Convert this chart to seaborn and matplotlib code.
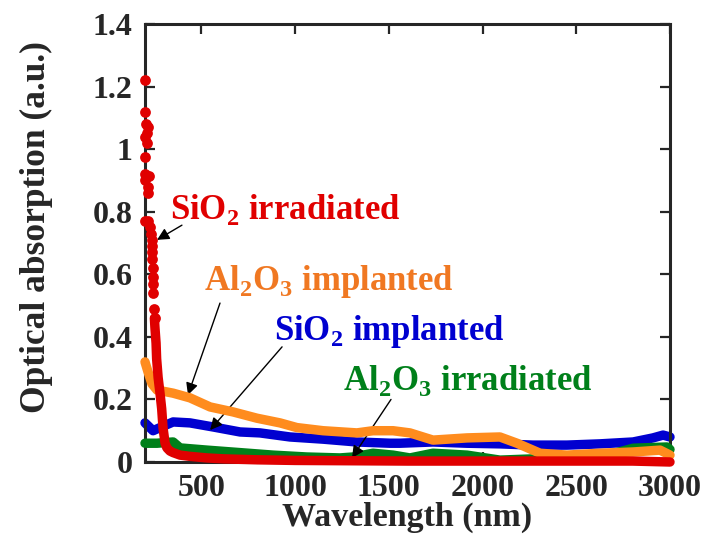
import matplotlib
matplotlib.use('Agg')
import matplotlib.pyplot as plt
import seaborn as sns

# SiO2 irradiated: sparse dots at short wavelength, then dense (drawn as a thick line)
red_dot_wl = [200, 200, 205, 216, 208, 202, 208, 200, 200, 222, 200, 216, 216, 200, 216,
              227, 230, 236, 236, 236, 236, 241, 241, 245, 245, 248, 253]
red_dot_abs = [1.22, 1.12, 1.08, 1.07, 1.05, 1.04, 1.02, 0.975, 0.92, 0.915, 0.90, 0.88, 0.86,
               0.77, 0.77, 0.75, 0.73, 0.71, 0.69, 0.67, 0.65, 0.62, 0.59, 0.57, 0.54, 0.49, 0.46]
red_wl = [250, 253, 259, 262, 270, 280, 289, 296, 307, 317, 333, 350, 387, 440, 530, 620,
          800, 1000, 1300, 1600, 2000, 2400, 2800, 3000]
red_abs = [0.46, 0.43, 0.38, 0.33, 0.27, 0.22, 0.17, 0.11, 0.06, 0.045, 0.035, 0.03, 0.022,
           0.018, 0.013, 0.01, 0.007, 0.005, 0.004, 0.003, 0.003, 0.003, 0.003, 0.0]

# SiO2 implanted
blue_wl = [200, 243, 280, 350, 440, 563, 707, 813, 973, 1150, 1330, 1507, 1560, 1736, 1917,
           2093, 2269, 2450, 2627, 2803, 2909, 2963, 3000]
blue_abs = [0.125, 0.10, 0.11, 0.128, 0.125, 0.112, 0.096, 0.093, 0.08, 0.073, 0.064, 0.06,
            0.06, 0.064, 0.06, 0.058, 0.054, 0.054, 0.058, 0.064, 0.077, 0.086, 0.08]

# Al2O3 implanted
orange_wl = [200, 215, 237, 264, 350, 440, 547, 670, 797, 920, 1010, 1150, 1330, 1416, 1523,
             1613, 1736, 1917, 2093, 2184, 2307, 2450, 2627, 2803, 2947, 3000]
orange_abs = [0.32, 0.29, 0.25, 0.23, 0.22, 0.205, 0.176, 0.16, 0.14, 0.125, 0.11, 0.10, 0.093,
              0.10, 0.10, 0.093, 0.07, 0.077, 0.08, 0.06, 0.028, 0.022, 0.028, 0.032, 0.038, 0.022]

# Al2O3 irradiated
green_wl = [200, 264, 350, 387, 530, 707, 883, 1063, 1240, 1310, 1416, 1523, 1613, 1736, 1917,
            2093, 2269, 2450, 2627, 2803, 2984, 3000]
green_abs = [0.06, 0.06, 0.064, 0.045, 0.038, 0.03, 0.022, 0.016, 0.013, 0.016, 0.028, 0.022,
             0.013, 0.028, 0.022, 0.006, 0.01, 0.013, 0.016, 0.044, 0.048, 0.04]

x_ticks = [500, 1000, 1500, 2000, 2500, 3000]
y_ticks = [0, 0.2, 0.4, 0.6, 0.8, 1.0, 1.2, 1.4]
y_ticklabels = ['0', '0.2', '0.4', '0.6', '0.8', '1', '1.2', '1.4']

RED = '#e00000'
BLUE = '#0000d0'
ORANGE = '#ff8c1e'
GREEN = '#00801a'

sns.set_style('ticks')
plt.rcParams['font.family'] = ['Liberation Serif', 'DejaVu Serif']
plt.rcParams['font.weight'] = 'bold'
plt.rcParams['mathtext.fontset'] = 'custom'
plt.rcParams['mathtext.rm'] = 'Liberation Serif:bold'
plt.rcParams['mathtext.bf'] = 'Liberation Serif:bold'

fig = plt.figure(figsize=(7.02, 5.4), dpi=100)
ax = fig.add_axes([145 / 702, 78 / 540, 525 / 702, 438 / 540])

line_kw = dict(linewidth=6.8, sort=False, ax=ax, clip_on=False, solid_capstyle='round')
sns.lineplot(x=blue_wl, y=blue_abs, color=BLUE, zorder=2, **line_kw)
sns.lineplot(x=green_wl, y=green_abs, color=GREEN, zorder=3, **line_kw)
sns.lineplot(x=orange_wl, y=orange_abs, color=ORANGE, zorder=4, **line_kw)
sns.lineplot(x=red_wl, y=red_abs, color=RED, zorder=5, **line_kw)
sns.scatterplot(x=red_dot_wl, y=red_dot_abs, color=RED, s=60, linewidth=0, ax=ax,
                zorder=5, clip_on=False)

ax.set_xlim(200, 3000)
ax.set_ylim(0, 1.4)
ax.set_xticks(x_ticks)
ax.set_xticklabels([str(t) for t in x_ticks])
ax.set_yticks(y_ticks)
ax.set_yticklabels(y_ticklabels)
ax.tick_params(direction='in', length=7, width=1.6, top=True, right=True,
               labelsize=23, pad=9)
for sp in ax.spines.values():
    sp.set_linewidth(2.2)
ax.set_xlabel('Wavelength (nm)', fontsize=24.5, fontweight='bold', labelpad=-1)
ax.set_ylabel('Optical absorption (a.u.)', fontsize=25.5, fontweight='bold')
ax.yaxis.set_label_coords(-0.176, 0.537)

# labels with arrows
arrow = dict(arrowstyle='-|>', color='black', lw=1, mutation_scale=18, shrinkA=0, shrinkB=0)
txt_kw = dict(fontsize=25, fontweight='bold', ha='left', va='baseline')
ax.text(333, 0.777, r'SiO$_\mathbf{2}$ irradiated', color=RED, **txt_kw)
ax.annotate('', xy=(264, 0.71), xytext=(397, 0.757), arrowprops=arrow)
ax.text(515, 0.55, r'Al$_\mathbf{2}$O$_\mathbf{3}$ implanted', color='#f07822', **txt_kw)
ax.annotate('', xy=(429, 0.214), xytext=(600, 0.508), arrowprops=arrow)
ax.text(888, 0.39, r'SiO$_\mathbf{2}$ implanted', color=BLUE, **txt_kw)
ax.annotate('', xy=(547, 0.102), xytext=(931, 0.368), arrowprops=arrow)
ax.text(1256, 0.23, r'Al$_\mathbf{2}$O$_\mathbf{3}$ irradiated', color=GREEN, **txt_kw)
ax.annotate('', xy=(1304, 0.013), xytext=(1512, 0.2), arrowprops=arrow)

fig.savefig('out.png', dpi=100)
